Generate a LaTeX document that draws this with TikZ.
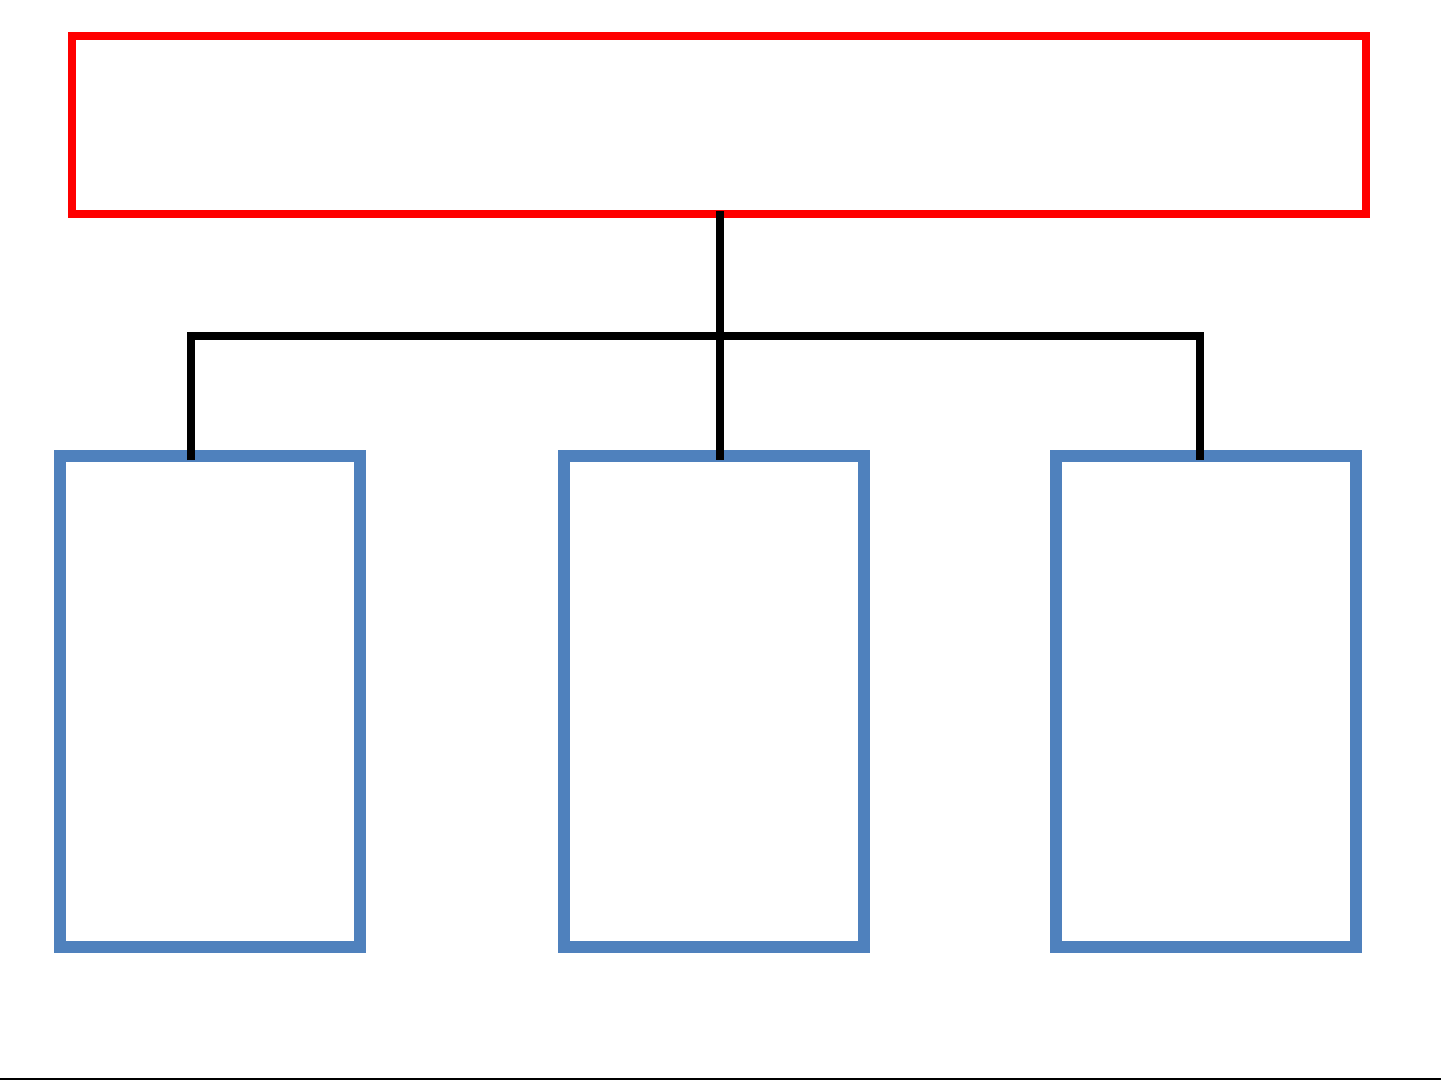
\documentclass[tikz,border=0pt]{standalone}
\usetikzlibrary{positioning}

\definecolor{boxblue}{HTML}{4F81BD}

\begin{document}
\begin{tikzpicture}[x=1pt, y=-1pt,
		top/.style={draw=red, line width=8pt, inner sep=0pt, minimum width=1294pt, minimum height=178pt},
		sub/.style={draw=boxblue, line width=12pt, inner sep=0pt, minimum width=300pt, minimum height=491pt},
		link/.style={draw=black, line width=8pt}]
		\useasboundingbox (0,0) rectangle (1441,1081);

		\node [top] (T) at (719,125) {};
		\node [sub] (L) at (210,701.5) {};
		\node [sub] (M) at (713.5,701.5) {};
		\node [sub] (R) at (1206,701.5) {};

		\coordinate (jl) at (191,336);
		\coordinate (jm) at (720,336);
		\coordinate (jr) at (1200,336);

		\path[link] ([yshift=7pt]T.south -| jm) -- ([yshift=-10pt]M.north -| jm);
		\path[link] ([yshift=-10pt]jl |- L.north) -- (jl) -- (jr) -- ([yshift=-10pt]jr |- R.north);

		\draw[line width=2pt] (0,1079) -- (1441,1079);
	\end{tikzpicture}
\end{document}
